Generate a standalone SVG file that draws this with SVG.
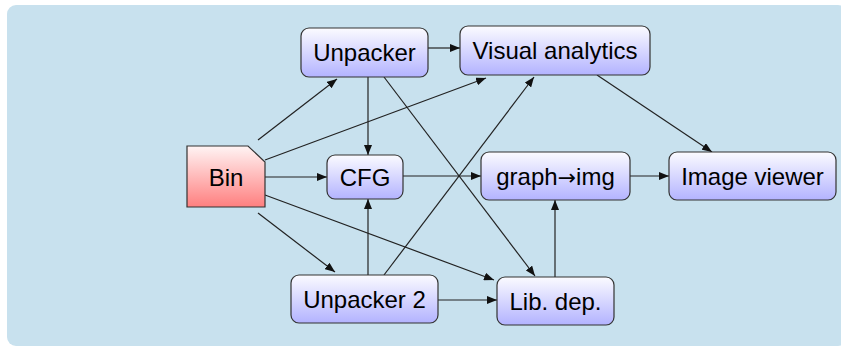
<svg xmlns="http://www.w3.org/2000/svg" width="841" height="349" viewBox="0 0 841 349">
<defs>
<linearGradient id="gb" x1="0" y1="0" x2="0" y2="1">
<stop offset="0" stop-color="#fbfbff"/>
<stop offset="1" stop-color="#b3b3ff"/>
</linearGradient>
<linearGradient id="gr" x1="0" y1="0" x2="0" y2="1">
<stop offset="0" stop-color="#fff4f4"/>
<stop offset="1" stop-color="#ff7f7f"/>
</linearGradient>
<marker id="ah" viewBox="0 0 10 8" refX="10" refY="4" markerWidth="10" markerHeight="8" markerUnits="userSpaceOnUse" orient="auto">
<path d="M0,0 L10,4 L0,8 Z" fill="#111"/>
</marker>
<style>
.n{fill:url(#gb);stroke:#333;stroke-width:1.2}
.t{font-family:"Liberation Sans",Arial,sans-serif;font-size:24px;fill:#000;text-anchor:middle}
.ar{font-family:"DejaVu Sans",sans-serif;font-size:22px}
.e{stroke:#222;stroke-width:1.2;fill:none;marker-end:url(#ah)}
</style>
</defs>
<rect x="7" y="5" width="840" height="341" rx="9" fill="#c8e1ee"/>
<g id="connectors">
<line class="e" x1="258" y1="140" x2="337" y2="79"/>
<line class="e" x1="265" y1="160" x2="486" y2="78"/>
<line class="e" x1="265" y1="177" x2="327" y2="177"/>
<line class="e" x1="265" y1="195" x2="494" y2="280"/>
<line class="e" x1="258" y1="213" x2="335" y2="272"/>
<line class="e" x1="428" y1="48" x2="460" y2="48"/>
<line class="e" x1="368" y1="77" x2="368" y2="155"/>
<line class="e" x1="384" y1="77" x2="535" y2="276"/>
<line class="e" x1="368" y1="275" x2="368" y2="199"/>
<line class="e" x1="384" y1="275" x2="534" y2="77"/>
<line class="e" x1="438" y1="300" x2="497" y2="300"/>
<line class="e" x1="403" y1="176" x2="481" y2="176"/>
<line class="e" x1="555" y1="277" x2="555" y2="200"/>
<line class="e" x1="630" y1="176" x2="669" y2="176"/>
<line class="e" x1="597" y1="75" x2="712" y2="152"/>
</g>
<g id="bin">
<path d="M187,146 L248,146 L265,162 L265,207 L187,207 Z" fill="url(#gr)" stroke="#333" stroke-width="1.2"/>
<text class="t" x="226" y="185.5">Bin</text>
</g>
<g id="unpacker">
<rect class="n" x="301" y="28" width="127" height="49" rx="8"/>
<text class="t" x="364.5" y="61">Unpacker</text>
</g>
<g id="visual">
<rect class="n" x="460" y="26" width="190" height="49" rx="8"/>
<text class="t" x="555" y="59">Visual analytics</text>
</g>
<g id="cfg">
<rect class="n" x="327" y="155" width="76" height="44" rx="8"/>
<text class="t" x="365" y="185.5">CFG</text>
</g>
<g id="graphimg">
<rect class="n" x="481" y="152" width="149" height="48" rx="8"/>
<text class="t" x="555.5" y="184.5">graph<tspan class="ar">→</tspan>img</text>
</g>
<g id="viewer">
<rect class="n" x="669" y="152" width="167" height="48" rx="8"/>
<text class="t" x="752.5" y="184.5">Image viewer</text>
</g>
<g id="unpacker2">
<rect class="n" x="291" y="275" width="147" height="48" rx="8"/>
<text class="t" x="364.5" y="307.5">Unpacker 2</text>
</g>
<g id="libdep">
<rect class="n" x="497" y="277" width="117" height="48" rx="8"/>
<text class="t" x="555.5" y="309.5">Lib. dep.</text>
</g>
</svg>
